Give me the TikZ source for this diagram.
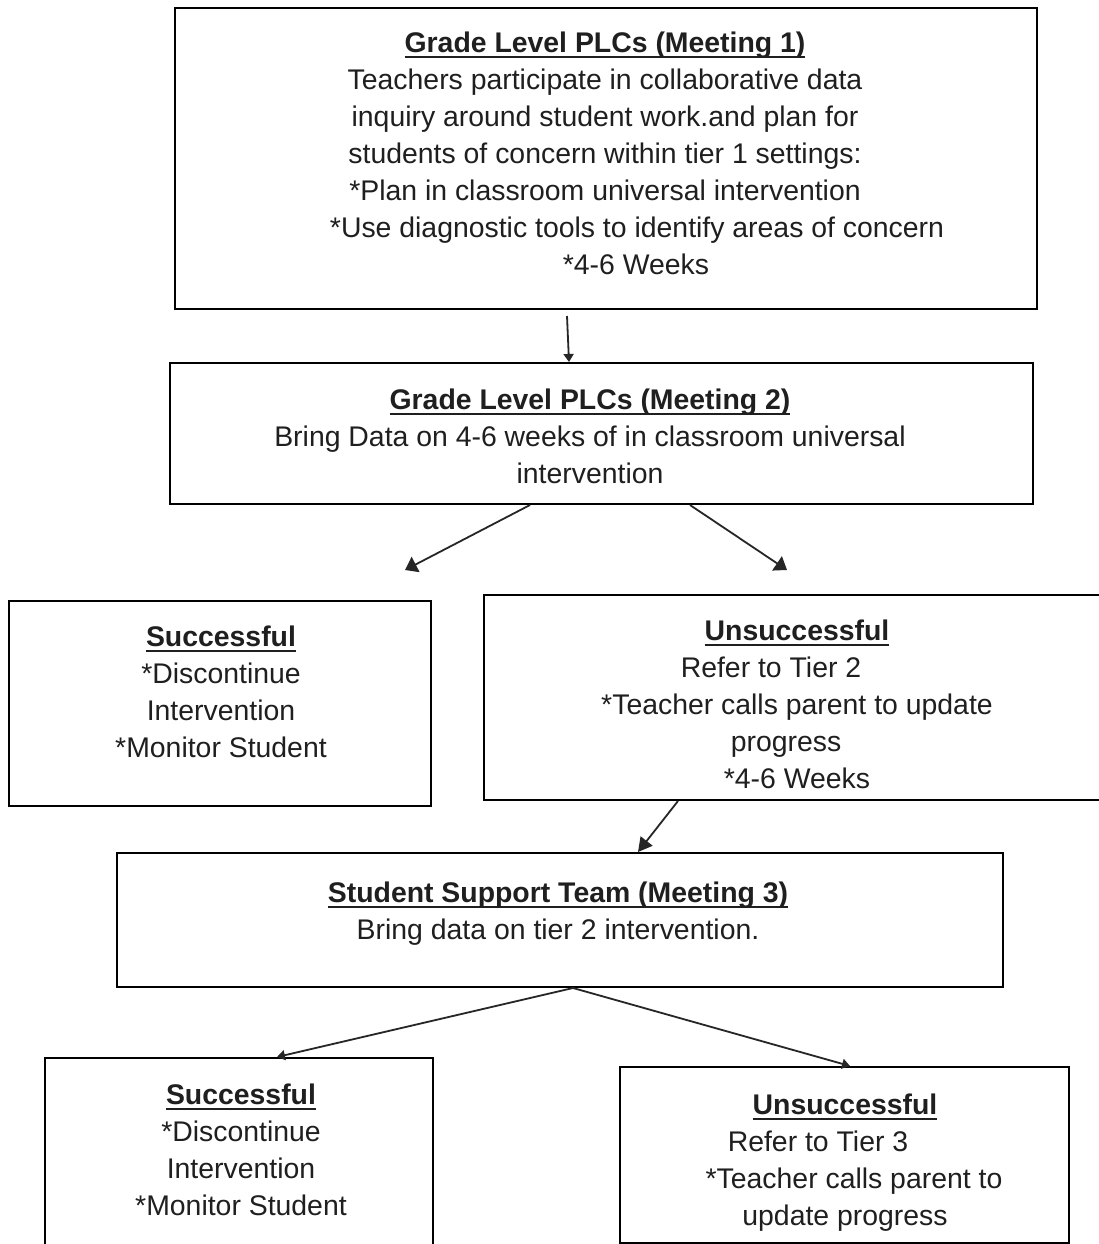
\documentclass[tikz,border=0pt]{standalone}
\usepackage{fontspec}
\setmainfont{Liberation Sans}
\usetikzlibrary{arrows.meta}

% bold heading with a thick underline
\newcommand\ttl[1]{\setbox0=\hbox{\bfseries #1}\rlap{\rule[-5pt]{\wd0}{2.2pt}}\box0}
% fixed blank space that survives at a line end
\newcommand\gap[1]{\hbox to #1{}}

\begin{document}
\begin{tikzpicture}[x=1pt,y=-1pt,
  box/.style={draw=black, line width=2pt, inner sep=0pt, fill=none},
  txt/.style={anchor=north, inner sep=0pt, align=center, text=black!88,
              font=\fontsize{28.4}{37}\selectfont},
  flow/.style={draw=black!85, line width=1.8pt},
  tipS/.style={-{Triangle[length=8pt,width=10pt]}},
  tipM/.style={-{Triangle[length=12pt,width=17pt]}},
  tipL/.style={-{Triangle[length=14pt,width=15pt]}}]

\useasboundingbox (0,0) rectangle (1099,1244);
\clip (0,0) rectangle (1099,1244);
\fill[white] (0,0) rectangle (1099,1244);

% boxes
\node[box, minimum width=862pt, minimum height=301pt] (b1)  at (606,158.5) {};
\node[box, minimum width=863pt, minimum height=141pt] (b2)  at (601.5,433.5) {};
\node[box, minimum width=422pt, minimum height=205pt] (b3l) at (220,703.5) {};
\node[box, minimum width=626pt, minimum height=205pt] (b3r) at (797,697.5) {};
\node[box, minimum width=886pt, minimum height=134pt] (b4)  at (560,920) {};
\node[box, minimum width=388pt, minimum height=212pt] (b5l) at (239,1164) {};
\node[box, minimum width=449pt, minimum height=176pt] (b5r) at (844.5,1155) {};

% box texts
\node[txt] (t1) at (605,32) {\ttl{Grade Level PLCs (Meeting 1)}\\
  Teachers participate in collaborative data\\
  inquiry around student work.and plan for\\
  students of concern within tier 1 settings:\\
  *Plan in classroom universal intervention\\
  \gap{64pt}*Use diagnostic tools to identify areas of concern\\
  \gap{62pt}*4-6 Weeks};

\node[txt] (t2) at (590,389) {\ttl{Grade Level PLCs (Meeting 2)}\\
  Bring Data on 4-6 weeks of in classroom universal\\
  intervention};

\node[txt] (t3l) at (221,626) {\ttl{Successful}\\
  *Discontinue\\
  Intervention\\
  *Monitor Student};

\node[txt] (t3r) at (797,620) {\ttl{Unsuccessful}\\
  Refer to Tier 2\gap{52pt}\\
  *Teacher calls parent to update\\
  progress\gap{22pt}\\
  *4-6 Weeks};

\node[txt] (t4) at (558,882) {\ttl{Student Support Team (Meeting 3)}\\
  Bring data on tier 2 intervention.};

\node[txt] (t5l) at (241,1084) {\ttl{Successful}\\
  *Discontinue\\
  Intervention\\
  *Monitor Student};

\node[txt] (t5r) at (845,1094) {\ttl{Unsuccessful}\\
  Refer to Tier 3\gap{54pt}\\
  \gap{18pt}*Teacher calls parent to\\
  update progress};

% free ends of connectors
\coordinate (a1s) at (567,316);
\coordinate (a2e) at (405,570);
\coordinate (a3e) at (787,570);

% connectors
\draw[flow, tipS] (a1s) -- ([xshift=-32.5pt]b2.north);
\draw[flow, tipM] ([xshift=-71.5pt]b2.south) -- (a2e);
\draw[flow, tipM] ([xshift=88.5pt]b2.south) -- (a3e);
\draw[flow, tipL] ([xshift=-119pt]b3r.south) -- ([xshift=78pt]b4.north);
\draw[flow, tipS] ([xshift=13pt]b4.south) -- ([xshift=38pt]b5l.north);
\draw[flow, tipS] ([xshift=13pt]b4.south) -- ([xshift=5.5pt]b5r.north);

\end{tikzpicture}
\end{document}
